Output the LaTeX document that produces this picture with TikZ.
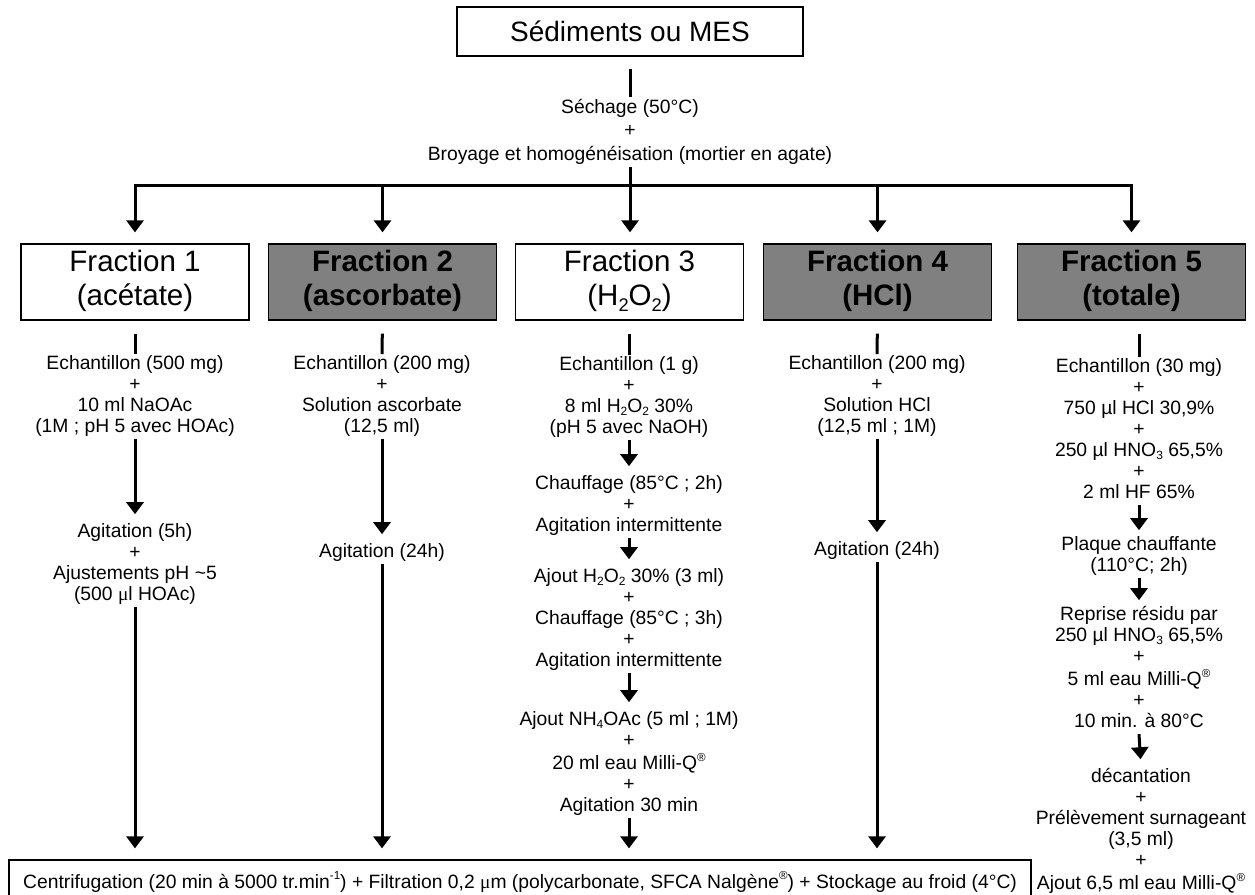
\documentclass[tikz,border=0pt]{standalone}
\usepackage{fontspec}
\setmainfont{Liberation Sans}
\newfontfamily\symbfont{Liberation Serif}
\usetikzlibrary{arrows.meta}
\definecolor{fracgray}{RGB}{128,128,128}
\newcommand\bodyfont{\fontsize{19.3}{21}\selectfont}
\newcommand\prepfont{\fontsize{19.3}{23.5}\selectfont}
\newcommand\fracfont{\fontsize{29.5}{34}\selectfont}
\newcommand\titlefont{\fontsize{28}{34}\selectfont}
\newcommand\mug{{\symbfont μ}}
% small lowered / raised indices
\newcommand\sbs[1]{\raisebox{-0.2em}{\scalebox{0.62}{#1}}}
\newcommand\sps[1]{\raisebox{0.42em}{\scalebox{0.6}{#1}}}
\begin{document}
\begin{tikzpicture}[x=1pt,y=-1pt,
  ln/.style={line width=3pt},
  arr/.style={line width=3pt,-{Triangle[width=17pt,length=12pt]}},
  blk/.style={align=center,font=\bodyfont,inner sep=0pt,anchor=north},
  fracbox/.style={draw=black,line width=1.3pt,minimum width=228pt,minimum height=76pt,
                  align=center,font=\fracfont,inner sep=0pt},
  fracdark/.style={fracbox,fill=fracgray,font=\fracfont\bfseries},
]
\useasboundingbox (0,0) rectangle (1255,894);
\clip (0,0) rectangle (1255,894);
\fill[white] (0,0) rectangle (1255,894);

% source and preparation
\node[draw, line width=1.3pt, minimum width=346pt, minimum height=49pt,
      font=\titlefont, inner sep=0pt] (src) at (630,31.5) {Sédiments ou MES};
\node[blk, font=\prepfont] (prep) at (630,96.5)
  {\strut Séchage (50°C)\\\strut +\\\strut Broyage et homogénéisation (mortier en agate)};

% the five fractions
\node[fracbox]  (f1) at (135,282)   {\strut Fraction 1\\\strut (acétate)};
\node[fracdark] (f2) at (382.5,282) {\strut Fraction 2\\\strut (ascorbate)};
\node[fracbox]  (f3) at (629.5,282) {\strut Fraction 3\\\strut (H\sbs{2}O\sbs{2})};
\node[fracdark] (f4) at (877.5,282) {\strut Fraction 4\\\strut (HCl)};
\node[fracdark] (f5) at (1131.5,282){\strut Fraction 5\\\strut (totale)};

% distribution bar
\coordinate (bar) at (0,185);
\draw[ln, shorten <=12pt] (src.south) -- (prep.north);
\draw[ln] (prep.south) -- (prep.south |- bar);
\draw[arr, shorten >=11pt] (prep.south |- bar) -| (f1.north);
\draw[arr, shorten >=11pt] (prep.south |- bar) -| (f5.north);
\draw[arr, shorten >=11pt] (f2.north |- bar) -- (f2.north);
\draw[arr, shorten >=11pt] (prep.south |- bar) -- (prep.south |- f3.north);
\draw[arr, shorten >=11pt] (f4.north |- bar) -- (f4.north);

% column 1: acetate
\node[blk] (b11) at (135,354.2) {\strut Echantillon (500 mg)\\\strut +\\\strut 10 ml NaOAc\\\strut (1M ; pH 5 avec HOAc)};
\node[blk] (b12) at (135,522.2) {\strut Agitation (5h)\\\strut +\\\strut Ajustements pH \textasciitilde5\\\strut (500 \mug l HOAc)};

% column 2: ascorbate
\node[blk] (b21) at (382,354.2) {\strut Echantillon (200 mg)\\\strut +\\\strut Solution ascorbate\\\strut (12,5 ml)};
\node[blk] (b22) at (382,542.2) {\strut Agitation (24h)};

% column 3: H2O2
\node[blk] (b31) at (629,355.2) {\strut Echantillon (1 g)\\\strut +\\\strut 8 ml H\sbs{2}O\sbs{2} 30\%\\\strut (pH 5 avec NaOH)};
\node[blk] (b32) at (629,474.2) {\strut Chauffage (85°C ; 2h)\\\strut +\\\strut Agitation intermittente};
\node[blk] (b33) at (629,567.2) {\strut Ajout H\sbs{2}O\sbs{2} 30\% (3 ml)\\\strut +\\\strut Chauffage (85°C ; 3h)\\\strut +\\\strut Agitation intermittente};
\node[blk] (b34) at (629,710.2) {\strut Ajout NH\sbs{4}OAc (5 ml ; 1M)\\\strut +\\\strut 20 ml eau Milli-Q\sps{®}\\\strut +\\\strut Agitation 30 min};

% column 4: HCl
\node[blk] (b41) at (877,354.2) {\strut Echantillon (200 mg)\\\strut +\\\strut Solution HCl\\\strut (12,5 ml ; 1M)};
\node[blk] (b42) at (877,540.2) {\strut Agitation (24h)};

% column 5: total digestion
\node[blk] (b51) at (1139,357.2) {\strut Echantillon (30 mg)\\\strut +\\\strut 750 µl HCl 30,9\%\\\strut +\\\strut 250 µl HNO\sbs{3} 65,5\%\\\strut +\\\strut 2 ml HF 65\%};
\node[blk] (b52) at (1139,535.2) {\strut Plaque chauffante\\\strut (110°C; 2h)};
\node[blk] (b53) at (1139,605.2) {\strut Reprise résidu par\\\strut 250 µl HNO\sbs{3} 65,5\%\\\strut +\\\strut 5 ml eau Milli-Q\sps{®}\\\strut +\\\strut 10 min. à 80°C};
\node[blk] (b54) at (1141,767.2) {\strut décantation\\\strut +\\\strut Prélèvement surnageant\\\strut (3,5 ml)\\\strut +\\\strut Ajout 6,5 ml eau Milli-Q\sps{®}};

% common final step
\node[draw, line width=1.3pt, minimum width=1022pt, minimum height=44pt, inner sep=0pt,
      font=\bodyfont] (bot) at (520,882)
  {Centrifugation (20 min à 5000 tr.min\sps{-1}) + Filtration 0,2 \mug m (polycarbonate, SFCA Nalgène\sps{®}) + Stockage au froid (4°C)};

% connectors inside the columns
\draw[ln, shorten <=13pt] (f1.south) -- (b11.north);
\draw[arr, shorten >=8pt] (b11.south) -- (b12.north);
\draw[arr, shorten >=11pt] (b12.south) -- (b12.south |- bot.north);

\draw[ln, shorten <=13pt] (f2.south) -- (b21.north);
\draw[arr, shorten >=8pt] (b21.south) -- (b22.north);
\draw[arr, shorten >=11pt] (b22.south) -- (b22.south |- bot.north);

\draw[ln, shorten <=13pt] (b31.north |- f3.south) -- (b31.north);
\draw[arr, shorten >=8pt] (b31.south) -- (b32.north);
\draw[arr, shorten >=8pt] (b32.south) -- (b33.north);
\draw[arr, shorten >=8pt] (b33.south) -- (b34.north);
\draw[arr, shorten >=11pt] (b34.south) -- (b34.south |- bot.north);

\draw[ln, shorten <=13pt] (f4.south) -- (b41.north);
\draw[arr, shorten >=8pt] (b41.south) -- (b42.north);
\draw[arr, shorten >=11pt] (b42.south) -- (b42.south |- bot.north);

\draw[ln, shorten <=13pt] (b51.north |- f5.south) -- (b51.north);
\draw[arr, shorten >=5pt] (b51.south) -- (b52.north);
\draw[arr, shorten >=5pt] (b52.south) -- (b53.north);
\draw[arr, shorten >=8pt] (b53.south) -- (b54.north);
\end{tikzpicture}
\end{document}
